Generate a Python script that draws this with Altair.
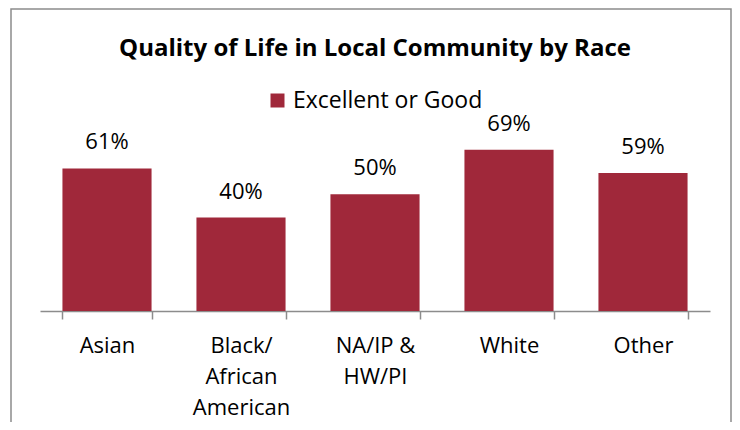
import altair as alt
import pandas as pd

categories = ["Asian", "Black/|African|American", "NA/IP &|HW/PI", "White", "Other"]
values = [0.61, 0.40, 0.50, 0.69, 0.59]
series_name = "Excellent or Good"
title_text = "Quality of Life in Local Community by Race"

df = pd.DataFrame({"race": categories, "pct": values, "series": [series_name] * len(categories)})

FONT = "Open Sans"
BAR = "#A0283A"
GRAY = "#8c8c8c"

x = alt.X(
    "race:N",
    sort=categories,
    scale=alt.Scale(paddingInner=0.335, paddingOuter=0.1675),
    axis=alt.Axis(
        title=None, labelAngle=0, labelExpr="split(datum.label, '|')",
        labelFont=FONT, labelFontSize=22, labelColor="#000", labelLineHeight=31,
        labelPadding=16, domainColor=GRAY, tickColor=GRAY, tickSize=8,
        tickBand="extent", domainWidth=1.5, tickWidth=1.5, labelLimit=0,
    ),
)
y = alt.Y("pct:Q", scale=alt.Scale(domain=[0, 0.8]), axis=None)

bars = alt.Chart(df).mark_bar().encode(
    x=x,
    y=y,
    color=alt.Color(
        "series:N",
        scale=alt.Scale(range=[BAR]),
        legend=alt.Legend(
            title=None, orient="none", legendX=226, legendY=-35,
            symbolType="square", symbolSize=196, symbolStrokeWidth=0,
            labelFont=FONT, labelFontSize=23, labelColor="#000", labelOffset=4,
            labelLimit=0,
        ),
    ),
)

labels = alt.Chart(df).mark_text(
    baseline="alphabetic", dy=-19, font=FONT, fontSize=22, color="#000"
).encode(x=x, y=y, text=alt.Text("pct:Q", format=".0%"))

frame = alt.Chart(pd.DataFrame({"f": [0]})).mark_rect(
    filled=False, stroke=GRAY, strokeWidth=1.5
).encode(x=alt.value(-29), x2=alt.value(691), y=alt.value(-115), y2=alt.value(400))

chart = alt.layer(frame, bars, labels).properties(
    width=670,
    height=187,
    padding={"left": 32, "right": 22, "top": 116, "bottom": 111},
    autosize=alt.AutoSizeParams(type="none"),
    title=alt.TitleParams(
        text=title_text, font=FONT, fontSize=24, fontWeight="bold",
        color="#000", anchor="middle", offset=-53,
    ),
).configure_view(stroke=None)

chart.save("out.html", embed_options={"renderer": "svg", "actions": False})
